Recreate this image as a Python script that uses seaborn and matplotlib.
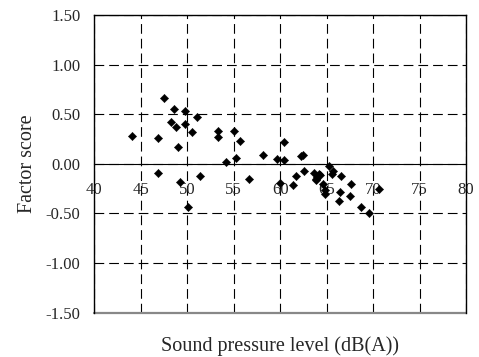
import matplotlib
matplotlib.use("Agg")
import matplotlib.pyplot as plt
import seaborn as sns
import pandas as pd

# Data
spl = [44.1, 46.9, 47.5, 46.9, 48.6, 48.2, 48.75, 49.0, 49.2, 49.75,
       49.75, 50.5, 51.0, 50.1, 51.4, 53.35, 53.35, 54.2, 55.07, 55.2,
       55.7, 56.6, 58.2, 59.65, 60.0, 60.45, 60.45, 61.35, 61.7, 62.2,
       62.4, 62.6, 63.6, 63.8, 63.95, 64.2, 64.65, 64.8, 64.8, 65.3,
       65.55, 65.7, 66.5, 66.3, 66.4, 67.65, 67.55, 68.7, 69.6, 70.65,
       64.3, 63.9]
score = [0.28, 0.26, 0.66, -0.089, 0.555, 0.42, 0.375, 0.173, -0.18, 0.53,
         0.40, 0.32, 0.475, -0.435, -0.123, 0.33, 0.27, 0.02, 0.334, 0.059,
         0.23, -0.156, 0.09, 0.052, -0.19, 0.223, 0.035, -0.21, -0.12, 0.08,
         0.085, -0.07, -0.09, -0.165, -0.13, -0.10, -0.207, -0.26, -0.30, -0.02,
         -0.10, -0.075, -0.12, -0.375, -0.28, -0.20, -0.32, -0.43, -0.50, -0.255,
         -0.11, -0.15]
xticks = [40, 45, 50, 55, 60, 65, 70, 75, 80]
yticks = [-1.5, -1.0, -0.5, 0.0, 0.5, 1.0, 1.5]

df = pd.DataFrame({"spl": spl, "score": score})

sns.set_style("white")
plt.rcParams["font.family"] = ["Liberation Serif", "DejaVu Serif"]
plt.rcParams["lines.scale_dashes"] = False

fig = plt.figure(figsize=(4.79, 3.57), dpi=100)
ax = fig.add_axes([0.197, 0.124, 0.776, 0.834])

ax.set_xlim(40, 80)
ax.set_ylim(-1.5, 1.5)
ax.set_xticks(xticks)
ax.set_yticks(yticks)
ax.set_xticklabels([str(t) for t in xticks])
ax.set_yticklabels([f"{t:.2f}" for t in yticks])

ax.grid(True, color="black", linestyle=(0, (7, 3.6)), linewidth=0.8, zorder=0)
ax.set_axisbelow(True)

sns.scatterplot(data=df, x="spl", y="score", marker="D", color="black",
                s=18, edgecolor="black", linewidth=0.3, ax=ax, zorder=3)

# x axis crossing at zero
ax.spines["bottom"].set_position(("data", 0))
ax.spines["bottom"].set_linewidth(0.8)
ax.spines["bottom"].set_color("black")
for s in ["left", "top", "right"]:
    ax.spines[s].set_visible(True)
    ax.spines[s].set_color("black")
    ax.spines[s].set_linewidth(1.0)
# bottom frame border
ax.axhline(-1.5, color="#888888", linewidth=1.6, zorder=1, clip_on=False)

ax.tick_params(axis="x", length=0, pad=13, labelsize=12)
ax.tick_params(axis="y", length=0, pad=10, labelsize=12)

ax.set_xlabel("Sound pressure level (dB(A))", fontsize=14.5)
ax.set_ylabel("Factor score", fontsize=14.5)
ax.xaxis.set_label_coords(0.5, -0.079)
ax.yaxis.set_label_coords(-0.153, 0.5)

fig.savefig("out.png", dpi=100)
